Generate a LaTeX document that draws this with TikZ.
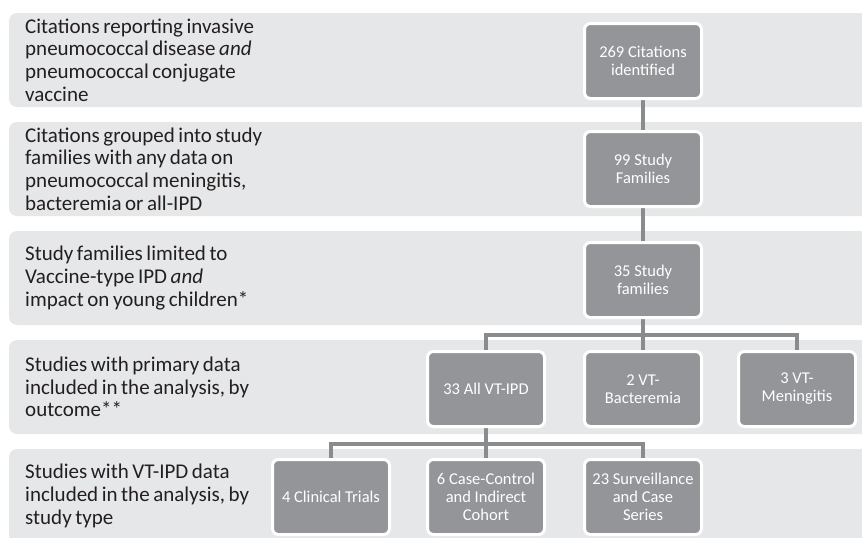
\documentclass[tikz,border=0pt]{standalone}
\usepackage{fontspec}
\setmainfont{Carlito}
\usetikzlibrary{backgrounds}
\definecolor{bandgray}{HTML}{E6E7E8}
\definecolor{boxgray}{HTML}{939598}
\definecolor{linkgray}{HTML}{8A8B8D}
\definecolor{textdark}{HTML}{231F20}
\newcommand\stagefont{\fontsize{21}{22.7}\selectfont\spaceskip=0.17em plus 0.05em\relax}
\begin{document}
\begin{tikzpicture}[x = 1pt,y = -1pt,
	band/.style = {fill = bandgray, rounded corners = 8pt},
	stage/.style = {anchor = west, align = left, text = textdark, inner sep = 0pt, font = \stagefont},
	stepbox/.style = {draw = white, line width = 3pt, fill = boxgray, rounded corners = 6pt, minimum width = 117pt, minimum height = 75pt, align = center, text = white, inner sep = 2pt, font = \fontsize{16.5}{18}\selectfont},
	link/.style = {draw = linkgray, line width = 4pt}]
	\useasboundingbox (0,0) rectangle (862,538);
	\clip (0,0) rectangle (862,538);
	% stage texts
	\node[stage] (txtcit) at (25,60) {Citations reporting invasive\\pneumococcal disease \textit{and}\\pneumococcal conjugate\\vaccine};
	\node[stage] (txtfam) at (25,169) {Citations grouped into study\\families with any data on\\pneumococcal meningitis,\\bacteremia or all-IPD};
	\node[stage] (txtvt) at (25,278) {Study families limited to\\Vaccine-type IPD \textit{and}\\impact on young children*};
	\node[stage] (txtout) at (25,387) {Studies with primary data\\included in the analysis, by\\outcome**};
	\node[stage] (txttype) at (25,496) {Studies with VT-IPD data\\included in the analysis, by\\study type};
	% boxes
	\node[stepbox] (cit) at (643,61) {269 Citations\\identified};
	\node[stepbox] (fam) at (643,169) {99 Study\\Families};
	\node[stepbox] (vtfam) at (643,280) {35 Study\\families};
	\node[stepbox] (allvt) at (486,389) {33 All VT-IPD};
	\node[stepbox] (bact) at (643,389) {2 VT-\\Bacteremia};
	\node[stepbox] (mening) at (797,389) {3 VT-\\Meningitis};
	\node[stepbox] (trials) at (331,497) {4 Clinical Trials};
	\node[stepbox] (cascon) at (486,497) {6 Case-Control\\and Indirect\\Cohort};
	\node[stepbox] (surv) at (643,497) {23 Surveillance\\and Case\\Series};
	% split points of the tree
	\coordinate (splitout) at (643,335);
	\coordinate (splittype) at (486,444);
	\begin{scope}[on background layer]
		% grey bands, one per stage
		\foreach \t in {13,122,231,340,449}
			\fill[band] (9,\t) rectangle (900,\t+94);
		% connectors
		\draw[link] (cit.south) -- (fam.north);
		\draw[link] (fam.south) -- (vtfam.north);
		\draw[link] (vtfam.south) -- (bact.north);
		\draw[link] (allvt.north) |- (splitout) -| (mening.north);
		\draw[link] (allvt.south) -- (cascon.north);
		\draw[link] (trials.north) |- (splittype) -| (surv.north);
	\end{scope}
\end{tikzpicture}
\end{document}
